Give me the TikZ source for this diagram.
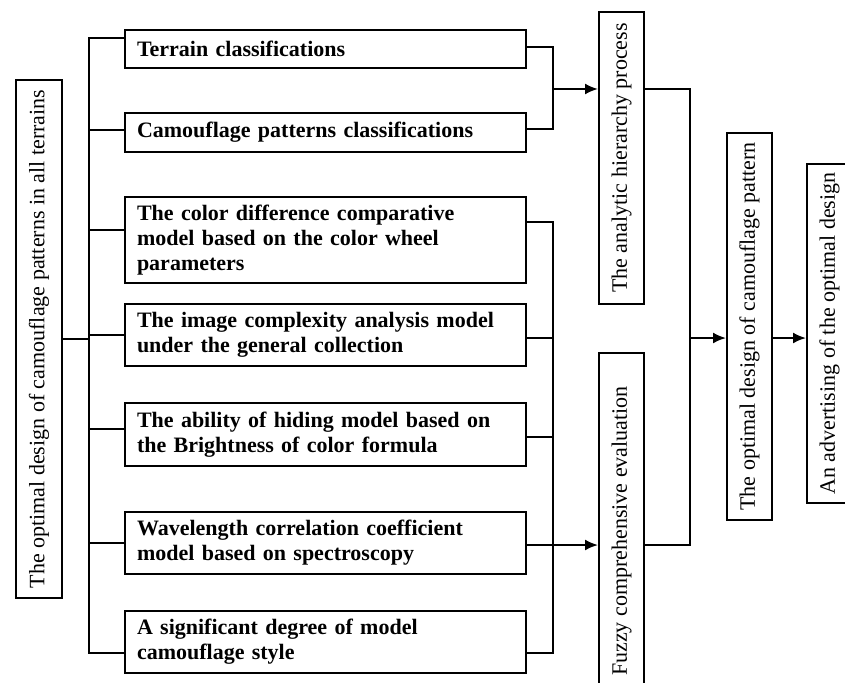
\documentclass[tikz,border=0pt]{standalone}
\usepackage{fontspec}
\setmainfont{Liberation Serif}
\usetikzlibrary{arrows.meta}
\usetikzlibrary{positioning}
\tikzset{hbox/.style = {draw, line width=2pt, align=left, text width=377pt,
                        inner xsep=12pt, inner ysep=2pt,
                        font=\fontsize{22}{25}\selectfont\bfseries}}
\tikzset{vbox/.style = {draw, line width=2pt, minimum width=45pt, inner sep=0pt,
                        font=\fontsize{22}{25}\selectfont}}
\tikzset{link/.style = {line width=2pt}}
\tikzset{arr/.style = {line width=2pt, -{Latex[length=13pt,width=11pt]}}}

\begin{document}
\begin{tikzpicture}[x=1pt, y=-1pt]
    \useasboundingbox (0,0) rectangle (845,682);

    \node [vbox, minimum width=46pt, minimum height=518pt] (root) at (39, 339)
        {\rotatebox{90}{The optimal design of camouflage patterns in all terrains}};

    \node [hbox, minimum height=38pt] (terrain)    at (325.5, 49)    {Terrain classifications};
    \node [hbox, minimum height=39pt] (patterns)   at (325.5, 132.5) {Camouflage patterns classifications};
    \node [hbox, minimum height=86pt] (colordiff)  at (325.5, 240)   {The color difference comparative\\model based on the color wheel\\parameters};
    \node [hbox, minimum height=62pt] (complexity) at (325.5, 335)   {The image complexity analysis model\\under the general collection};
    \node [hbox, minimum height=63pt] (hiding)     at (325.5, 434.5) {The ability of hiding model based on\\the Brightness of color formula};
    \node [hbox, minimum height=62pt] (wavelength) at (325.5, 543)   {Wavelength correlation coefficient\\model based on spectroscopy};
    \node [hbox, minimum height=62pt] (degree)     at (325.5, 642)   {A significant degree of model\\camouflage style};

    \node [vbox, minimum height=292pt] (ahp)     at (621.5, 158)   {\rotatebox{90}{The analytic hierarchy process}};
    \node [vbox, minimum height=356pt] (fuzzy)   at (621.5, 531)   {\rotatebox{90}{Fuzzy comprehensive evaluation}};
    \node [vbox, minimum height=387pt] (optimal) at (749.5, 326.5) {\rotatebox{90}{The optimal design of camouflage pattern}};
    \node [vbox, minimum height=339pt] (advert)  at (829.5, 333.5) {\rotatebox{90}{An advertising of the optimal design}};

    % left tree
    \draw [link] (root.east) -- ++(26,0) |- ([yshift=11pt]terrain.west);
    \draw [link] (root.east) -- ++(26,0) |- ([yshift=2.5pt]patterns.west);
    \draw [link] (root.east) -- ++(26,0) |- ([yshift=10pt]colordiff.west);
    \draw [link] (root.east) -- ++(26,0) |- (complexity.west);
    \draw [link] (root.east) -- ++(26,0) |- ([yshift=5.5pt]hiding.west);
    \draw [link] (root.east) -- ++(26,0) |- (wavelength.west);
    \draw [link] (root.east) -- ++(26,0) |- ([yshift=-11pt]degree.west);

    % joins
    \coordinate (ahpjoin) at (553, 89);
    \coordinate (fuzzyjoin) at (553, 545);
    \coordinate (outjoin) at (690, 338);

    \draw [link] ([yshift=2pt]terrain.east) -| (ahpjoin);
    \draw [link] ([yshift=3.5pt]patterns.east) -| (ahpjoin);
    \draw [arr] (ahpjoin) -- (ahp.west |- ahpjoin);

    \draw [link] ([yshift=18pt]colordiff.east) -| (fuzzyjoin);
    \draw [link] ([yshift=-3pt]complexity.east) -| (fuzzyjoin);
    \draw [link] ([yshift=-2.5pt]hiding.east) -| (fuzzyjoin);
    \draw [link] ([yshift=-11pt]degree.east) -| (fuzzyjoin);
    \draw [arr] (wavelength.east |- fuzzyjoin) -- (fuzzy.west |- fuzzyjoin);

    \draw [link] (ahp.east |- ahpjoin) -| (outjoin);
    \draw [link] (fuzzy.east |- fuzzyjoin) -| (outjoin);
    \draw [arr] (outjoin) -- (optimal.west |- outjoin);
    \draw [arr] (optimal.east |- outjoin) -- (advert.west |- outjoin);
\end{tikzpicture}
\end{document}
